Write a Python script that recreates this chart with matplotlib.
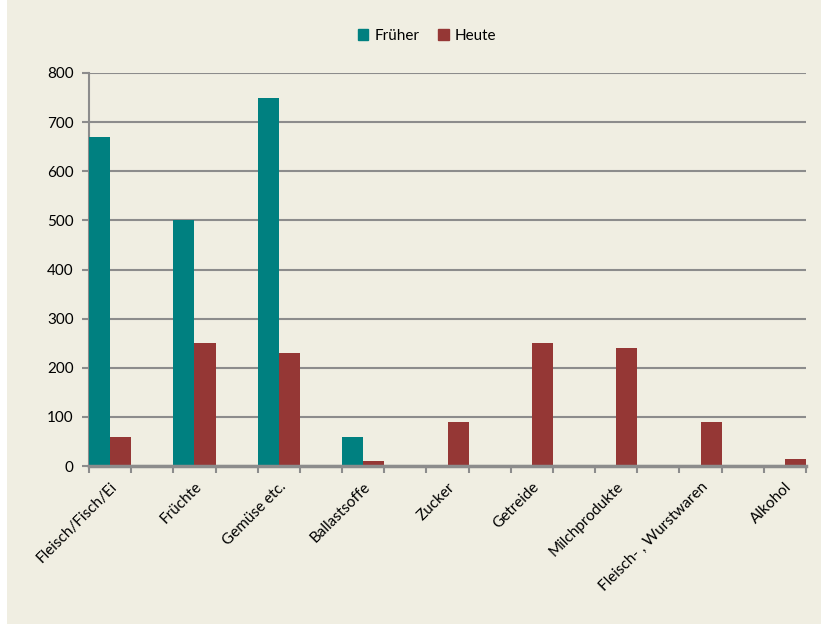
import matplotlib.pyplot as plt
import numpy as np
from matplotlib.patches import Patch, Rectangle

# Data
categories = ['Fleisch/Fisch/Ei', 'Früchte', 'Gemüse etc.', 'Ballastsoffe', 'Zucker',
              'Getreide', 'Milchprodukte', 'Fleisch- , Wurstwaren', 'Alkohol']
frueher = [670, 500, 750, 60, 0, 0, 0, 0, 0]
heute = [60, 250, 230, 10, 90, 250, 240, 90, 15]

bg = '#F0EEE2'
teal = '#008080'
red = '#953735'
grey = '#8C8C8C'

plt.rcParams['font.family'] = ['Lato', 'DejaVu Sans']

fig = plt.figure(figsize=(8.21, 6.24), dpi=100)
fig.patch.set_facecolor(bg)
fig.patches.append(Rectangle((0, 0), 7 / 821, 1, transform=fig.transFigure,
                             facecolor='white', edgecolor='none', zorder=-1))

ax = fig.add_axes([89 / 821, 1 - 466 / 624, 717 / 821, 393 / 624])
ax.set_facecolor(bg)

# each category spans two slots, bars fill the first slot
x = np.arange(len(categories)) * 2
ax.bar(x, frueher, width=0.5, align='edge', color=teal, zorder=3)
ax.bar(x + 0.5, heute, width=0.5, align='edge', color=red, zorder=3)

ax.set_xlim(0, 2 * len(categories) - 1)
ax.set_ylim(0, 800)
ax.set_yticks(range(0, 801, 100))
ax.yaxis.grid(True, color=grey, linewidth=1.5, zorder=0)

ax.set_xticks(range(0, 2 * len(categories)))
ax.set_xticklabels([])
ax.set_xticks(x + 0.5, minor=True)
ax.set_xticklabels(categories, minor=True, rotation=45, ha='right', va='top',
                   rotation_mode='anchor', fontsize=11)
ax.tick_params(axis='x', which='minor', length=0, pad=10)
ax.tick_params(axis='x', which='major', length=5, width=1.5, color=grey)
ax.tick_params(axis='y', length=5, width=1.5, color=grey, labelsize=11, pad=6)

for side in ['top', 'right']:
    ax.spines[side].set_visible(False)
ax.spines['left'].set_color(grey)
ax.spines['left'].set_linewidth(1.5)
ax.spines['bottom'].set_color(grey)
ax.spines['bottom'].set_linewidth(2.5)
ax.spines['bottom'].set_zorder(4)

handles = [Patch(color=teal, label='Früher'), Patch(color=red, label='Heute')]
fig.legend(handles=handles, loc='center', bbox_to_anchor=(0.52, 1 - 36 / 624), ncol=2,
           frameon=False, fontsize=11, handlelength=0.7, handleheight=0.7,
           handletextpad=0.4, columnspacing=1.2)

fig.savefig('out.png', dpi=100, facecolor=bg)
